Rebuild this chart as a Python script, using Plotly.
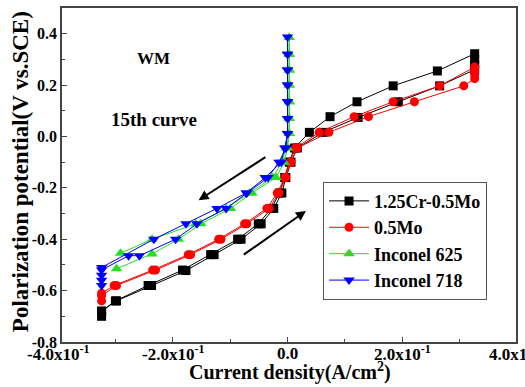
import plotly.graph_objects as go

# ---- data (current density A/cm^2, potential V vs SCE) ----
cr_x = [-0.324, -0.324, -0.298, -0.237, -0.177, -0.128, -0.081, -0.046, -0.024, -0.010, -0.003, 0.006, 0.017,
        0.062, 0.123, 0.193, 0.265, 0.326, 0.326, 0.326, 0.326,
        0.261, 0.184, 0.121, 0.074, 0.038, 0.012, 0.003, -0.005, -0.014, -0.028, -0.051, -0.087, -0.134,
        -0.183, -0.243, -0.300, -0.324]
cr_y = [-0.700, -0.680, -0.640, -0.580, -0.522, -0.460, -0.400, -0.340, -0.280, -0.220, -0.160, -0.100, -0.045,
        0.016, 0.074, 0.135, 0.197, 0.260, 0.280, 0.300, 0.322,
        0.255, 0.197, 0.135, 0.077, 0.016, -0.045, -0.100, -0.160, -0.220, -0.280, -0.340, -0.400, -0.460,
        -0.520, -0.580, -0.640, -0.680]

mo_x = [-0.324, -0.324, -0.298, -0.230, -0.169, -0.116, -0.071, -0.032, -0.015, -0.003, 0.006, 0.017,
        0.072, 0.141, 0.221, 0.307, 0.326, 0.326, 0.326, 0.326,
        0.265, 0.184, 0.116, 0.055, 0.014, 0.004, -0.005, -0.018, -0.036, -0.075, -0.120, -0.173,
        -0.235, -0.302, -0.324]
mo_y = [-0.640, -0.620, -0.580, -0.520, -0.460, -0.400, -0.340, -0.280, -0.220, -0.160, -0.100, -0.045,
        0.016, 0.077, 0.135, 0.197, 0.225, 0.240, 0.255, 0.270,
        0.197, 0.135, 0.077, 0.016, -0.045, -0.100, -0.160, -0.220, -0.280, -0.340, -0.400, -0.460,
        -0.520, -0.580, -0.610]

in625_x = [-0.298, -0.236, -0.190, -0.151, -0.099, -0.062, -0.020, -0.006, 0.000,
           0.003, 0.003, 0.003, 0.003, 0.003, 0.003, 0.003,
           0.003, 0.003, 0.003, 0.003, 0.003, 0.003,
           -0.002, -0.010, -0.026, -0.066, -0.107, -0.160, -0.236, -0.291]
in625_y = [-0.515, -0.457, -0.400, -0.340, -0.280, -0.220, -0.160, -0.100, -0.045,
           0.012, 0.070, 0.135, 0.200, 0.259, 0.320, 0.385,
           0.320, 0.259, 0.200, 0.135, 0.070, 0.012,
           -0.045, -0.100, -0.160, -0.220, -0.280, -0.340, -0.400, -0.455]

in718_x = [-0.324, -0.324, -0.324, -0.324, -0.277, -0.258, -0.195, -0.158, -0.107, -0.071, -0.034, -0.015, -0.003,
           0.000, 0.000, 0.000, 0.000, 0.000, 0.000, 0.000,
           0.000, 0.000, 0.000, 0.000, 0.000, 0.000,
           -0.005, -0.011, -0.039, -0.072, -0.123, -0.177, -0.233, -0.324]
in718_y = [-0.580, -0.560, -0.540, -0.520, -0.464, -0.464, -0.400, -0.340, -0.280, -0.220, -0.160, -0.100, -0.045,
           0.012, 0.070, 0.135, 0.200, 0.259, 0.320, 0.387,
           0.320, 0.259, 0.200, 0.135, 0.070, 0.012,
           -0.045, -0.100, -0.160, -0.220, -0.280, -0.340, -0.400, -0.510]

x_range = [-0.393, 0.398]
y_range = [-0.8, 0.5]
x_tick_vals = [-0.4, -0.2, 0.0, 0.2, 0.4]
x_tick_text = ["-4.0x10<sup>-1</sup>", "-2.0x10<sup>-1</sup>", "0.0", "2.0x10<sup>-1</sup>", "4.0x10<sup>-1</sup>"]
y_tick_vals = [-0.8, -0.6, -0.4, -0.2, 0.0, 0.2, 0.4]
y_tick_text = ["-0.8", "-0.6", "-0.4", "-0.2", "0.0", "0.2", "0.4"]

FONT = "Liberation Serif"

fig = go.Figure()
series = [
    ("1.25Cr-0.5Mo", cr_x, cr_y, "#000000", "square", 9),
    ("0.5Mo", mo_x, mo_y, "#ff0000", "circle", 9),
    ("Inconel 625", in625_x, in625_y, "#22e022", "triangle-up", 10),
    ("Inconel 718", in718_x, in718_y, "#0000ff", "triangle-down", 10),
]
for name, xs, ys, col, sym, sz in series:
    fig.add_trace(go.Scatter(x=xs, y=ys, name=name, mode="lines+markers",
                             line=dict(color=col, width=1),
                             marker=dict(color=col, symbol=sym, size=sz, line=dict(width=0))))

ann = []
# x tick labels: placed through the x-axis range (the edge labels lie just past the range)
for v, t in zip(x_tick_vals, x_tick_text):
    px = (v - x_range[0]) / (x_range[1] - x_range[0])
    ann.append(dict(x=px, y=-0.034, xref="paper", yref="paper", text=t, showarrow=False,
                    xanchor="center", yanchor="middle",
                    font=dict(family=FONT, size=17, color="black", weight="bold")))
ann += [
    dict(x=0.502, y=-0.089, xref="paper", yref="paper", text="Current density(A/cm<sup>2</sup>)",
         showarrow=False, xanchor="center", yanchor="middle",
         font=dict(family=FONT, size=20, color="black", weight="bold")),
    dict(x=-0.090, y=0.509, xref="paper", yref="paper", text="Polarization potential(V vs.SCE)",
         textangle=-90, showarrow=False, xanchor="center", yanchor="middle",
         font=dict(family=FONT, size=23, color="black", weight="bold")),
    dict(x=-0.233, y=0.302, xref="x", yref="y", text="WM", showarrow=False,
         xanchor="center", yanchor="middle",
         font=dict(family=FONT, size=17, color="black", weight="bold")),
    dict(x=-0.233, y=0.066, xref="x", yref="y", text="15th curve", showarrow=False,
         xanchor="center", yanchor="middle",
         font=dict(family=FONT, size=19, color="black", weight="bold")),
    dict(x=-0.155, y=-0.248, ax=-0.036, ay=-0.077, xref="x", yref="y", axref="x", ayref="y",
         text="", showarrow=True, arrowhead=2, arrowsize=1, arrowwidth=2, arrowcolor="black"),
    dict(x=0.032, y=-0.29, ax=-0.079, ay=-0.464, xref="x", yref="y", axref="x", ayref="y",
         text="", showarrow=True, arrowhead=2, arrowsize=1, arrowwidth=2, arrowcolor="black"),
]

fig.update_layout(
    width=525, height=387,
    margin=dict(l=62, r=9, t=6, b=45),
    paper_bgcolor="white", plot_bgcolor="white",
    showlegend=True,
    legend=dict(x=0.575, y=0.480, xanchor="left", yanchor="top",
                bordercolor="#555555", borderwidth=1, bgcolor="white",
                font=dict(family=FONT, size=18, color="black", weight="bold"),
                tracegroupgap=0, itemwidth=40),
    annotations=ann,
)
fig.update_xaxes(range=x_range, showgrid=False, zeroline=False,
                 showline=True, linecolor="#444444", linewidth=1.5, mirror=True,
                 ticks="inside", tick0=0, dtick=0.2, ticklen=5, tickcolor="#444444",
                 showticklabels=False,
                 minor=dict(ticks="inside", dtick=0.1, tick0=0, ticklen=3, tickcolor="#444444"))
fig.update_yaxes(range=y_range, showgrid=False, zeroline=False,
                 showline=True, linecolor="#444444", linewidth=1.5, mirror=True,
                 ticks="inside", tickvals=y_tick_vals, ticktext=y_tick_text, ticklen=5,
                 tickcolor="#444444",
                 tickfont=dict(family=FONT, size=16, color="black", weight="bold"),
                 minor=dict(ticks="inside", dtick=0.1, tick0=0, ticklen=3, tickcolor="#444444"))

fig.write_html("out.html")
